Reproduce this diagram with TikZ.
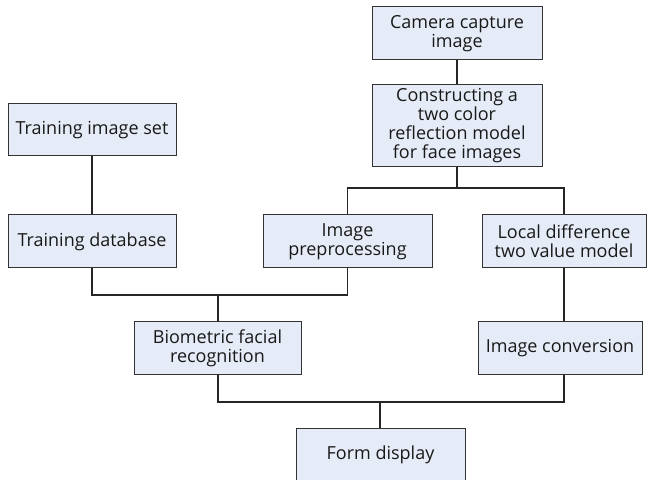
\documentclass[tikz,border=0pt]{standalone}
\usepackage{fontspec}
\setmainfont{Open Sans}
\begin{document}
\begin{tikzpicture}[x=1pt,y=1pt,
  box/.style={draw=black!80, fill=boxfill, line width=1pt, align=center,
    inner sep=0pt, font=\fontsize{18}{19}\selectfont, text=black!90},
  link/.style={draw=black!85, line width=1.1pt}]
\definecolor{boxfill}{HTML}{E6ECF7}
\useasboundingbox (0,0) rectangle (647,479);
% process boxes (positions in px, y measured from the bottom)
\node[box, minimum width=170, minimum height=53] (cam) at (457,445.5) {Camera capture\\image};
\node[box, minimum width=170, minimum height=82] (cons) at (457,353) {Constructing a\\two color\\reflection model\\for face images};
\node[box, minimum width=168, minimum height=52] (tis) at (92,349) {Training image set};
\node[box, minimum width=168, minimum height=53] (tdb) at (92,237.5) {Training database};
\node[box, minimum width=169, minimum height=53] (ipp) at (347.5,237.5) {Image\\preprocessing};
\node[box, minimum width=164, minimum height=53] (ldm) at (564,237.5) {Local difference\\two value model};
\node[box, minimum width=167, minimum height=53] (bio) at (217.5,130.5) {Biometric facial\\recognition};
\node[box, minimum width=164, minimum height=53] (icv) at (560,130.5) {Image conversion};
\node[box, minimum width=169, minimum height=53] (fd) at (380.5,24.5) {Form display};
% junction points of the tree connectors
\coordinate (j1) at (457,291);
\coordinate (j2) at (218,184);
\coordinate (j3) at (380,77);
% connectors
\draw[link] (cam.south) -- (cons.north);
\draw[link] (cons.south) -- (j1);
\draw[link] (ipp.north) |- (j1) -| (ldm.north);
\draw[link] (tis.south) -- (tdb.north);
\draw[link] (tdb.south) |- (j2) -| (ipp.south);
\draw[link] (j2) -- (bio.north -| j2);
\draw[link] (ldm.south) -- (ldm.south |- icv.north);
\draw[link] (bio.south -| j2) |- (j3) -| (ldm.south |- icv.south);
\draw[link] (j3) -- (fd.north -| j3);
\end{tikzpicture}
\end{document}
